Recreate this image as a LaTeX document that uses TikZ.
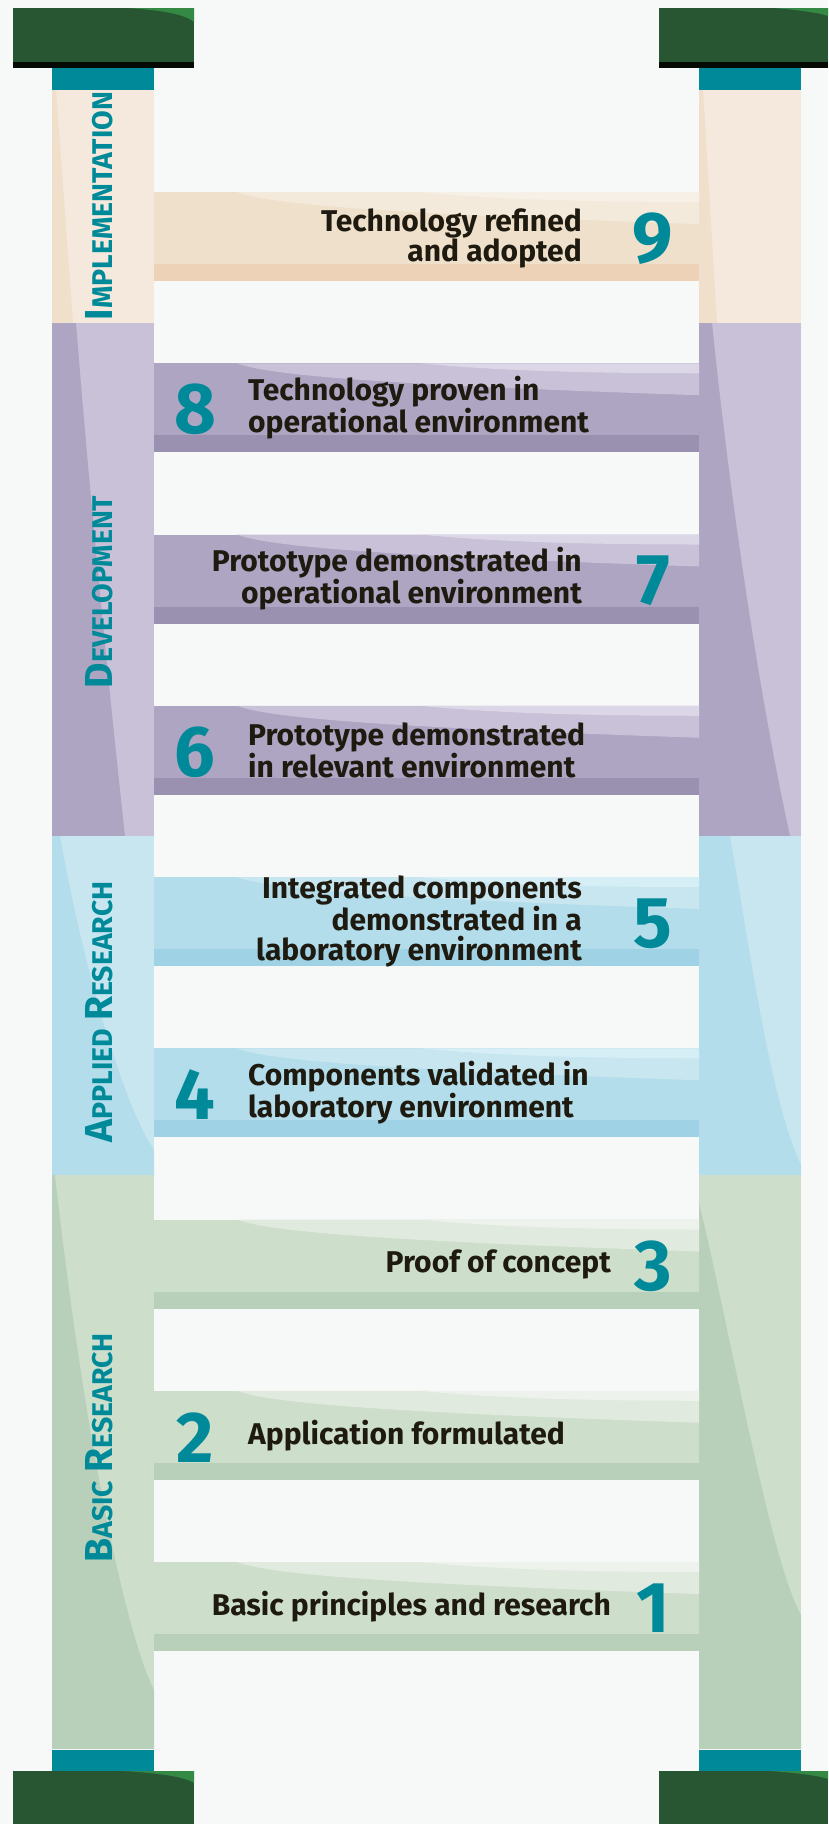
\documentclass[tikz,border=0pt]{standalone}
\usepackage{fontspec}
\setmainfont{Fira Sans}
\usetikzlibrary{positioning}

\definecolor{bg}{HTML}{F7F9F9}
\definecolor{capgreen}{HTML}{285633}
\definecolor{caphi}{HTML}{348A45}
\definecolor{capline}{HTML}{050A05}
\definecolor{trlteal}{HTML}{008A99}
\definecolor{ink}{HTML}{1E1A10}
% phase colours: rail, dark wedge, rung, light, top, band
\definecolor{implRail}{HTML}{F4E9DC}\definecolor{implDark}{HTML}{EFDFCB}
\definecolor{implRung}{HTML}{EFE0CB}\definecolor{implLight}{HTML}{F4EADC}
\definecolor{implTop}{HTML}{F6F0E6}\definecolor{implBand}{HTML}{EDD2B8}
\definecolor{devRail}{HTML}{C9C1D8}\definecolor{devDark}{HTML}{ADA5C2}
\definecolor{devRung}{HTML}{ADA5C2}\definecolor{devLight}{HTML}{C9C1D8}
\definecolor{devTop}{HTML}{DCD7E6}\definecolor{devBand}{HTML}{9A91B1}
\definecolor{appRail}{HTML}{C8E6F0}\definecolor{appDark}{HTML}{B3DDEB}
\definecolor{appRung}{HTML}{B3DDEB}\definecolor{appLight}{HTML}{C8E6F0}
\definecolor{appTop}{HTML}{D6EEF5}\definecolor{appBand}{HTML}{A0D2E6}
\definecolor{basRail}{HTML}{CDDECB}\definecolor{basDark}{HTML}{B8D0BA}
\definecolor{basRung}{HTML}{CDDECB}\definecolor{basLight}{HTML}{E1EADF}
\definecolor{basTop}{HTML}{EEF2EC}\definecolor{basBand}{HTML}{B8D0BA}

\newcommand{\phasecap}[2]{{\fontsize{39}{39}\selectfont #1}{\fontsize{28.5}{28.5}\selectfont #2}}

\begin{document}
\begin{tikzpicture}[x=1pt,y=-1pt,
	rungtext/.style={font=\fontsize{30}{29.5}\selectfont\bfseries, text=ink, inner sep=0pt},
	rungnum/.style={font=\fontsize{72}{72}\selectfont\bfseries, text=trlteal, inner sep=0pt},
	phase/.style={rotate=90, anchor=base, text=trlteal, inner sep=0pt, font=\bfseries}]
	\fill[bg] (0,0) rectangle (828,1824);
	\useasboundingbox (0,0) rectangle (828,1824);

	% rails
	\fill[implRail] (52,90) rectangle (154,323);
	\fill[implRail] (699,90) rectangle (801,323);
	\fill[implDark] (52,90) -- (56,90) -- (73,323) -- (52,323) -- cycle;
	\fill[implDark] (699,90) -- (703,90) -- (717,323) -- (699,323) -- cycle;
	\fill[devRail] (52,323) rectangle (154,836);
	\fill[devRail] (699,323) rectangle (801,836);
	\fill[devDark] (52,323) -- (76,323) .. controls (90,500) and (110,700) .. (125,836) -- (52,836) -- cycle;
	\fill[devDark] (699,323) -- (712,323) .. controls (730,500) and (760,700) .. (790,836) -- (699,836) -- cycle;
	\fill[appRail] (52,836) rectangle (154,1175);
	\fill[appRail] (699,836) rectangle (801,1175);
	\fill[appDark] (52,836) -- (60,836) .. controls (80,950) and (120,1100) .. (154,1150) -- (154,1175) -- (52,1175) -- cycle;
	\fill[appDark] (699,836) -- (730,836) .. controls (750,950) and (770,1100) .. (801,1165) -- (801,1175) -- (699,1175) -- cycle;
	\fill[basRail] (52,1175) rectangle (154,1749);
	\fill[basRail] (699,1175) rectangle (801,1749);
	\fill[basDark] (52,1175) -- (55,1175) .. controls (80,1400) and (120,1620) .. (154,1690) -- (154,1749) -- (52,1749) -- cycle;
	\fill[basDark] (699,1175) -- (699,1203) .. controls (730,1330) and (770,1560) .. (801,1615) -- (801,1749) -- (699,1749) -- cycle;

	% teal ends
	\fill[trlteal] (52,68) rectangle (154,90);
	\fill[trlteal] (699,68) rectangle (801,90);
	\fill[trlteal] (52,1750) rectangle (154,1771);
	\fill[trlteal] (699,1750) rectangle (801,1771);

	% caps
	\fill[capgreen] (13,8) rectangle (194,62);
	\fill[caphi] (127,8) .. controls (160,10) and (185,14) .. (194,22) -- (194,8) -- cycle;
	\fill[capline] (13,62) rectangle (194,68);
	\fill[capgreen] (659,8) rectangle (828,62);
	\fill[caphi] (773,8) .. controls (800,10) and (820,13) .. (828,16) -- (828,8) -- cycle;
	\fill[capline] (659,62) rectangle (828,68);
	\fill[capgreen] (13,1771) rectangle (194,1824);
	\fill[caphi] (123,1771) .. controls (160,1773) and (185,1777) .. (194,1783) -- (194,1771) -- cycle;
	\fill[capgreen] (659,1771) rectangle (828,1824);
	\fill[caphi] (770,1771) .. controls (800,1773) and (820,1776) .. (828,1779) -- (828,1771) -- cycle;

	% rungs
	\foreach \n/\t/\ph in {9/192/impl, 8/363.25/dev, 7/534.5/dev, 6/705.75/dev, 5/877/app,
		4/1048.25/app, 3/1219.5/bas, 2/1390.75/bas, 1/1562/bas} {
		\fill[\ph Rung] (154,\t) rectangle (699,\t+89);
		\fill[\ph Light] (237,\t) .. controls (270,\t+13) and (400,\t+22) .. (699,\t+32) -- (699,\t) -- cycle;
		\fill[\ph Top] (420,\t) .. controls (500,\t+8) and (600,\t+10) .. (699,\t+10) -- (699,\t) -- cycle;
		\fill[\ph Band] (154,\t+72) rectangle (699,\t+89);
		\coordinate (c\n) at (426.5,\t+44.5);
	}

	% levels
	\node[rungnum] (n9) at (653,238.5) {9};
	\node[rungtext, anchor=east, align=right] (t9) at (582,238.5) {Technology refined\\and adopted};
	\node[rungnum] (n8) at (195,409.75) {8};
	\node[rungtext, anchor=west, align=left] (t8) at (248,407.75) {Technology proven in\\operational environment};
	\node[rungnum] (n7) at (653,581) {7};
	\node[rungtext, anchor=east, align=right] (t7) at (582,579) {Prototype demonstrated in\\operational environment};
	\node[rungnum] (n6) at (195,752.25) {6};
	\node[rungtext, anchor=west, align=left] (t6) at (248,750.25) {Prototype demonstrated\\in relevant environment};
	\node[rungnum] (n5) at (653,923.5) {5};
	\node[rungtext, anchor=east, align=right] (t5) at (582,921.5) {Integrated components\\demonstrated in a\\laboratory environment};
	\node[rungnum] (n4) at (195,1094.75) {4};
	\node[rungtext, anchor=west, align=left] (t4) at (248,1092.75) {Components validated in\\laboratory environment};
	\node[rungnum] (n3) at (653,1266) {3};
	\node[rungtext, anchor=east] (t3) at (611,1264) {Proof of concept};
	\node[rungnum] (n2) at (195,1437.25) {2};
	\node[rungtext, anchor=west] (t2) at (248,1435.25) {Application formulated};
	\node[rungnum] (n1) at (653,1608.5) {1};
	\node[rungtext, anchor=east] (t1) at (611,1606.5) {Basic principles and research};

	% phases
	\node[phase] (impl) at (112,206) {\phasecap{I}{MPLEMENTATION}};
	\node[phase] (dev) at (112,592) {\phasecap{D}{EVELOPMENT}};
	\node[phase] (app) at (112,1012) {\phasecap{A}{PPLIED}\hspace{8pt}\phasecap{R}{ESEARCH}};
	\node[phase] (bas) at (112,1448) {\phasecap{B}{ASIC}\hspace{8pt}\phasecap{R}{ESEARCH}};
\end{tikzpicture}
\end{document}
